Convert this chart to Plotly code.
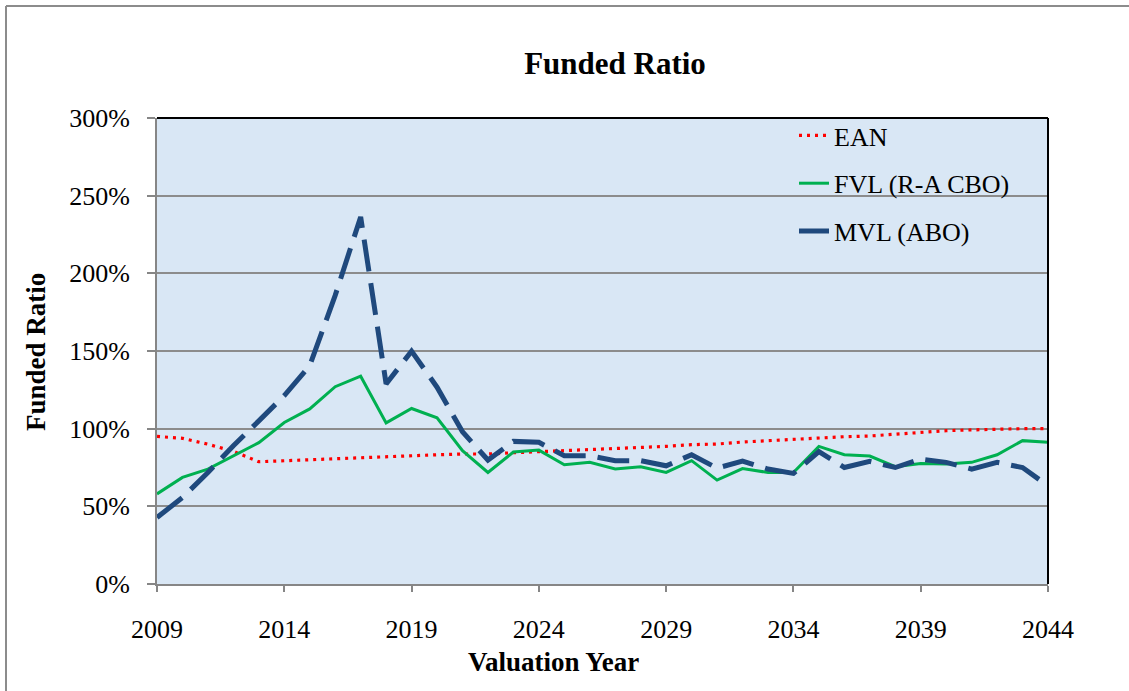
import plotly.graph_objects as go

years = list(range(2009, 2045))

ean = [95, 93.8, 90, 85.4, 78.7, 79.4, 79.8, 80.4, 81, 81.7, 82.4, 83.2, 83.7,
       83.7, 84.5, 85.2, 85.8, 86.2, 86.9, 87.5, 88.6, 89.7, 90.1, 91.4,
       92.3, 92.7, 94, 94.8, 95.3, 96.6, 97.6, 98.7, 99.2, 99.8, 100, 100]

fvl = [58, 68.6, 74, 82.6, 91, 104, 112.7, 127, 133.8, 103.7, 113, 107, 85.8,
       71.8, 85, 86.2, 76.8, 78.3, 74, 75.5, 71.8, 79.4, 66.9, 74.3,
       71.8, 71.8, 88.6, 83.2, 82.4, 75.5, 77.6, 77.2, 78.3, 83.2, 92.3, 91.2]

mvl = [42.8, 55.7, 71.8, 89, 105, 121.3, 140.6, 185.8, 236.3, 128.8, 149.9, 126.7, 98,
       79.8, 91.8, 91.2, 82.6, 82.6, 79.4, 79.4, 76.1, 83.2, 74.6, 79.1,
       74, 71.2, 85.2, 75, 78.9, 75, 80.4, 78.3, 74, 78.3, 75, 63.2]

series_names = ["EAN", "FVL (R-A CBO)", "MVL (ABO)"]

x_ticks = [2009, 2014, 2019, 2024, 2029, 2034, 2039, 2044]
y_ticks = [0, 50, 100, 150, 200, 250, 300]
y_ticklabels = [f"{v}%" for v in y_ticks]

FONT = "Liberation Serif, Times New Roman, serif"

fig = go.Figure()
fig.add_trace(go.Scatter(x=years, y=ean, mode="lines", name=series_names[0],
                         line=dict(color="#ff0000", width=3.2, dash="3px,5px"),
                         legendgroup="a"))
fig.add_trace(go.Scatter(x=years, y=fvl, mode="lines", name=series_names[1],
                         line=dict(color="#00b050", width=3),
                         legendgroup="b"))
fig.add_trace(go.Scatter(x=years, y=mvl, mode="lines", name=series_names[2],
                         line=dict(color="#1f497d", width=5, dash="32px,12px"),
                         legendgroup="c"))

L, R, T, B = 157, 81, 118, 107
W, H = 1129, 691
pw, ph = W - L - R, H - T - B

def px(x):
    return (x - L) / pw

def py(y):
    return (H - B - y) / ph

fig.update_layout(
    width=W, height=H,
    margin=dict(l=L, r=R, t=T, b=B),
    paper_bgcolor="white",
    plot_bgcolor="#d9e7f5",
    font=dict(family=FONT, size=26, color="black"),
    title=dict(text="<b>Funded Ratio</b>", font=dict(family=FONT, size=31, color="black"),
               x=px(615), xref="paper", xanchor="center",
               y=1 - 63 / H, yref="container", yanchor="middle"),
    showlegend=True,
    legend=dict(x=px(794), y=py(112), xanchor="left", yanchor="top",
                bgcolor="rgba(0,0,0,0)", tracegroupgap=11,
                font=dict(family=FONT, size=26, color="black")),
    xaxis=dict(range=[2009, 2044], tickvals=x_ticks, ticktext=[str(v) for v in x_ticks],
               showgrid=False, zeroline=False,
               showline=True, linecolor="#868686", linewidth=2,
               ticks="outside", tickcolor="#868686", ticklen=6, tickwidth=2,
               ticklabelstandoff=15,
               tickfont=dict(family=FONT, size=26, color="black"), mirror=False),
    yaxis=dict(range=[0, 300], tickvals=y_ticks, ticktext=y_ticklabels,
               showgrid=True, gridcolor="#8c8c8c", gridwidth=1.5, zeroline=False,
               showline=True, linecolor="#868686", linewidth=2,
               ticks="outside", tickcolor="#868686", ticklen=8, tickwidth=2,
               ticklabelstandoff=12,
               tickfont=dict(family=FONT, size=26, color="black")),
    annotations=[
        dict(text="<b>Funded Ratio</b>", xref="paper", yref="paper",
             x=px(36), y=py(352), xanchor="center", yanchor="middle",
             textangle=-90, showarrow=False,
             font=dict(family=FONT, size=27, color="black")),
        dict(text="<b>Valuation Year</b>", xref="paper", yref="paper",
             x=px(553), y=py(662), xanchor="center", yanchor="middle",
             showarrow=False,
             font=dict(family=FONT, size=27, color="black")),
    ],
    shapes=[
        dict(type="line", xref="paper", yref="paper", x0=0, x1=1, y0=1, y1=1,
             line=dict(color="black", width=2)),
        dict(type="line", xref="paper", yref="paper", x0=1, x1=1, y0=0, y1=1,
             line=dict(color="black", width=2)),
        dict(type="line", xref="paper", yref="paper", x0=px(6), x1=px(6), y0=py(6), y1=py(700),
             line=dict(color="#8c8c8c", width=2)),
        dict(type="line", xref="paper", yref="paper", x0=px(6), x1=px(1140), y0=py(6), y1=py(6),
             line=dict(color="#8c8c8c", width=2)),
    ],
)

fig.write_html("out.html", config={"displayModeBar": False},
               post_script="document.body.style.margin='0';")
